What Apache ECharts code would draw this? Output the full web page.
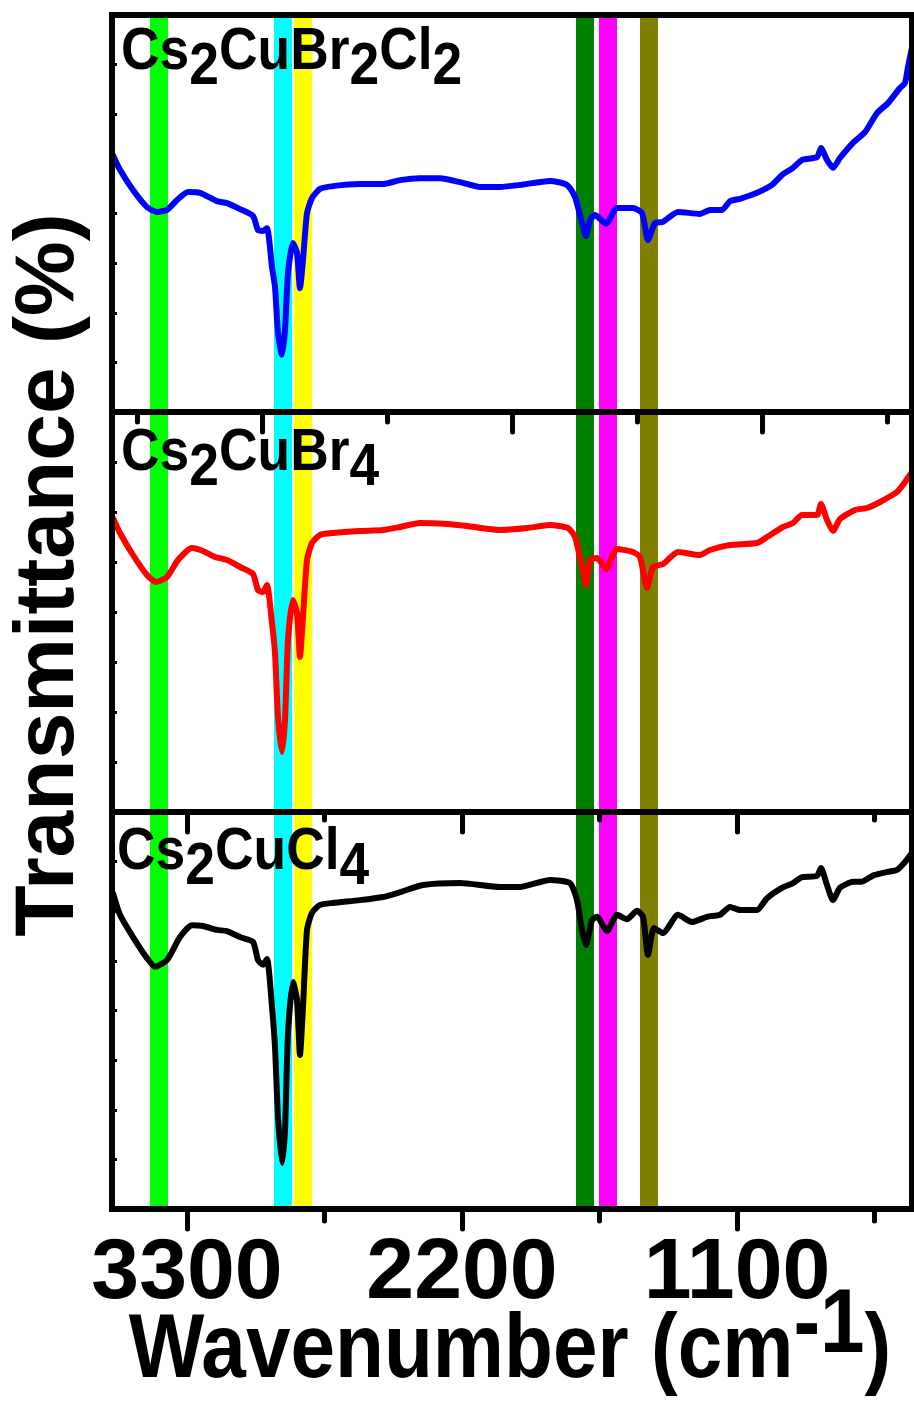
<!DOCTYPE html>
<html><head><meta charset="utf-8">
<script src="https://cdn.jsdelivr.net/npm/echarts@6/dist/echarts.min.js"></script>
<style>html,body{margin:0;padding:0;background:#fff}#c{width:914px;height:1402px}</style>
</head><body><div id="c"></div>
<script>
// ---- data (wavenumber in cm^-1, transmittance in arbitrary % units per panel) ----
const wnBr2Cl2 = [3596,3568,3516,3460,3420,3380,3340,3296,3248,3180,3140,3088,3036,3016,2996,2980,2960,2948,2936,2920,2908,2896,2876,2860,2848,2836,2820,2800,2768,2716,2608,2516,2448,2368,2288,2208,2128,2048,1968,1848,1780,1748,1720,1704,1688,1668,1624,1580,1516,1480,1456,1428,1396,1336,1248,1208,1160,1128,1088,1020,960,916,876,840,780,764,740,716,688,636,588,540,496,448,428,416,400];
const tBr2Cl2 = [64.7,61.0,55.9,51.6,50.4,50.9,53.4,55.4,55.2,53.1,52.6,51.1,49.4,45.8,45.6,46.3,36.5,31.5,19.9,14.4,20.7,35.0,42.6,40.1,31.2,38.3,50.1,53.9,56.2,56.9,57.4,57.4,58.4,58.9,58.9,57.9,56.7,56.7,57.2,58.2,57.2,54.2,47.6,44.3,48.4,49.6,47.4,51.4,51.4,50.1,43.3,47.6,47.9,50.4,49.9,50.9,50.9,53.1,53.7,55.2,57.2,59.9,61.5,63.5,64.2,66.5,63.5,61.5,64.0,67.8,70.5,75.3,77.8,81.6,82.9,86.9,91.9];

const wnBr4 = [3596,3568,3516,3460,3424,3380,3336,3280,3236,3188,3140,3088,3036,3016,2996,2980,2960,2948,2936,2920,2908,2896,2876,2860,2848,2836,2820,2800,2768,2716,2608,2516,2448,2368,2260,2180,2048,1940,1848,1776,1748,1720,1704,1688,1660,1624,1580,1516,1488,1460,1436,1396,1336,1248,1208,1128,1020,980,916,876,840,780,764,740,716,688,628,580,528,460,428,400];
const tBr4 = [73.5,69.75,64.25,59.25,57.5,58.75,63,66,65.25,63.75,63,61.25,59.5,55.5,55,56.75,47.25,39.75,23.75,15,23,43,53,49.75,38.75,48.75,63,67.25,69.25,69.75,70.25,70.5,71.25,72.25,72,71.5,70.5,71,71.75,71,68.75,61.25,56.75,63,63.5,60.75,65.75,65,63.75,56,61.25,62,65,64.25,65.5,66.75,67.25,68.75,71.25,72.25,74.25,74.25,77,73,70.25,73.25,75.5,76,77.5,80,82.5,85];

const wnCl4 = [3596,3568,3516,3460,3428,3380,3328,3280,3236,3180,3140,3088,3036,3016,2996,2980,2960,2948,2936,2920,2908,2896,2876,2860,2848,2836,2820,2800,2768,2716,2608,2516,2448,2356,2208,2048,1968,1848,1768,1740,1720,1704,1680,1660,1620,1580,1540,1500,1476,1456,1432,1396,1336,1280,1220,1168,1128,1088,1020,980,920,876,840,780,764,740,716,688,636,604,552,500,460,428,400];
const tCl4 = [79.5,74.1,68.5,63.2,61.0,62.7,68.5,71.5,71.3,70.3,70.0,68.5,67.3,62.7,61.5,63.0,50.9,40.8,23.2,11.6,19.9,44.3,57.2,52.6,38.8,50.9,70.3,74.6,76.6,77.1,77.8,78.6,79.8,81.6,82.1,81.1,81.1,82.9,82.1,77.8,70.3,66.5,72.8,73.6,70.0,74.1,73.0,75.1,73.6,64.0,70.8,69.5,74.1,72.3,73.6,74.1,76.1,75.3,75.3,78.3,80.9,82.1,83.6,83.9,85.9,81.6,77.8,80.9,82.4,82.4,84.1,84.9,85.4,87.4,89.7];

// highlighted bands (cm^-1)
const bandStarts = [3448, 2952, 2872, 1744, 1652, 1488];
const bandEnds   = [3376, 2880, 2800, 1672, 1580, 1416];
const bandColors = ['#00ff00', '#00ffff', '#ffff00', '#008000', '#ff00ff', '#808000'];

// ticks
const tickLabels = [3300, 2200, 1100];
const topMajorTicks = [3000, 2000, 1000];
const topMinorTicks = [3500, 2500, 1500, 500];
const majorTicks = [3300, 2200, 1100];
const minorTicks = [2750, 1650, 550];

const sampleNames = ['Cs2CuBr2Cl2', 'Cs2CuBr4', 'Cs2CuCl4'];
const seriesColors = ['#0000ff', '#ff0000', '#000000'];

// ---- build chart ----
const SANS = "'Liberation Sans', Arial, sans-serif";
const panels = [
  {wn: wnBr2Cl2, t: tBr2Cl2, major: topMajorTicks, minor: topMinorTicks, minorLen: 10},
  {wn: wnBr4, t: tBr4, major: majorTicks, minor: minorTicks, minorLen: 8},
  {wn: wnCl4, t: tCl4, major: majorTicks, minor: minorTicks, minorLen: 12}
];
const gridBoxes = [
  {left: 112, top: 15, width: 800, height: 397},
  {left: 112, top: 412, width: 800, height: 400},
  {left: 112, top: 812, width: 800, height: 397}
];
const lineSt = {color: '#000', width: 6, cap: 'square'};
const xAxes = [], yAxes = [], series = [];
panels.forEach((p, i) => {
  const base = {type: 'value', gridIndex: i, min: 400, max: 3600, inverse: true,
    splitLine: {show: false}, z: 5};
  xAxes.push(Object.assign({}, base, {
    position: 'bottom',
    axisLine: {show: true, onZero: false, lineStyle: lineSt},
    axisTick: {show: true, customValues: p.major, length: 20, lineStyle: {color: '#000', width: 5, cap: 'round'}},
    axisLabel: i === 2 ? {show: true, customValues: tickLabels, fontSize: 86, fontWeight: 'bold',
      fontFamily: SANS, color: '#000', margin: 22, formatter: v => String(v)} : {show: false}
  }));
  xAxes.push(Object.assign({}, base, {
    position: 'bottom',
    axisLine: {show: false, onZero: false},
    axisTick: {show: true, customValues: p.minor, length: p.minorLen, lineStyle: {color: '#000', width: 5, cap: 'round'}},
    axisLabel: {show: false}
  }));
  xAxes.push(Object.assign({}, base, {
    position: 'top',
    axisLine: {show: true, onZero: false, lineStyle: lineSt},
    axisTick: {show: false}, axisLabel: {show: false}
  }));
  yAxes.push({type: 'value', gridIndex: i, min: 0, max: 100, interval: 12.5, position: 'left', z: 5,
    axisLine: {show: true, onZero: false, lineStyle: lineSt},
    axisTick: {show: true, inside: true, length: 5, lineStyle: {color: '#000', width: 3}},
    axisLabel: {show: false}, splitLine: {show: false}});
  yAxes.push({type: 'value', gridIndex: i, min: 0, max: 100, position: 'right', z: 5,
    axisLine: {show: true, onZero: false, lineStyle: lineSt},
    axisTick: {show: false}, axisLabel: {show: false}, splitLine: {show: false}});
  series.push({
    type: 'line', xAxisIndex: i * 3, yAxisIndex: i * 2, data: [], silent: true, z: 1,
    markArea: {silent: true, data: bandStarts.map((s, k) => [
      {xAxis: s, itemStyle: {color: bandColors[k], opacity: 1}}, {xAxis: bandEnds[k]}])}
  });
  series.push({
    type: 'line', name: sampleNames[i], xAxisIndex: i * 3, yAxisIndex: i * 2, z: 3,
    data: p.wn.map((w, k) => [w, p.t[k]]),
    showSymbol: false, symbol: 'none', smooth: 0.2,
    lineStyle: {color: seriesColors[i], width: 6, join: 'round', cap: 'round'}
  });
});

const labRich = {
  a: {fontSize: 60, fontWeight: 'bold', fontFamily: SANS, fill: '#000', color: '#000'},
  b: {fontSize: 60, fontWeight: 'bold', fontFamily: SANS, fill: '#000', color: '#000', padding: [30, 0, 0, 0]}
};
const labelTexts = ['{a|Cs}{b|2}{a|CuBr}{b|2}{a|Cl}{b|2}', '{a|Cs}{b|2}{a|CuBr}{b|4}', '{a|Cs}{b|2}{a|CuCl}{b|4}'];
const labelPos = [[121, 52], [121, 453], [117, 852]];
const graphics = labelTexts.map((t, i) => ({
  type: 'text', x: labelPos[i][0], y: labelPos[i][1], z: 10, scaleX: 0.89,
  style: {text: t, rich: labRich, align: 'left', verticalAlign: 'middle', fill: '#000'}
}));
graphics.push({
  type: 'text', x: 510, y: 1352, z: 10, scaleX: 0.89,
  style: {text: '{a|Wavenumber (cm}{s|-1}{a|)}', align: 'center', verticalAlign: 'middle', fill: '#000',
    rich: {
      a: {fontSize: 90, fontWeight: 'bold', fontFamily: SANS, fill: '#000', color: '#000'},
      s: {fontSize: 90, fontWeight: 'bold', fontFamily: SANS, fill: '#000', color: '#000', padding: [0, 0, 50, 0]}
    }}
});
graphics.push({
  type: 'text', x: 50, y: 575, rotation: Math.PI / 2, z: 10,
  style: {text: 'Transmittance (%)', fontSize: 84, fontWeight: 'bold', fontFamily: SANS,
    fill: '#000', align: 'center', verticalAlign: 'middle'}
});

const chart = echarts.init(document.getElementById('c'), null, {renderer: 'canvas'});
chart.setOption({
  animation: false,
  backgroundColor: '#fff',
  grid: gridBoxes.map(g => Object.assign({containLabel: false, show: false}, g)),
  xAxis: xAxes,
  yAxis: yAxes,
  series: series,
  graphic: graphics
});
</script>
</body></html>
